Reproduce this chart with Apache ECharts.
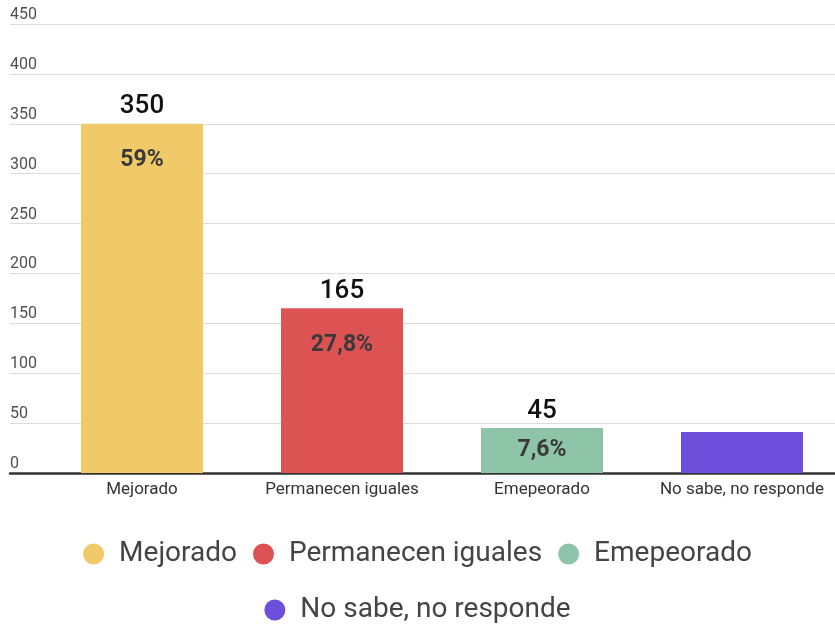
<!DOCTYPE html>
<html>
<head>
<meta charset="utf-8">
<style>html,body{margin:0;padding:0;background:#fff}#c{width:835px;height:626px}</style>
<script src="https://cdn.jsdelivr.net/npm/echarts@6/dist/echarts.min.js"></script>
</head>
<body>
<div id="c"></div>
<script>
const categories = ['Mejorado', 'Permanecen iguales', 'Emepeorado', 'No sabe, no responde'];
const values = [350, 165, 45, 41];
const percentLabels = ['59%', '27,8%', '7,6%', null];
const colors = ['#F0C968', '#DD5354', '#8EC4A7', '#6C4FDB'];
const yTicks = { min: 0, max: 450, interval: 50 };

const FONT = 'Roboto';
const chart = echarts.init(document.getElementById('c'), null, { renderer: 'canvas' });

const catSeries = categories.map((name, i) => ({
  type: 'bar',
  name: name,
  stack: 'v',
  xAxisIndex: 0,
  yAxisIndex: 0,
  barWidth: 122,
  data: categories.map((_, j) => (j === i ? values[i] : '-')),
  itemStyle: { color: colors[i] },
  label: {
    show: percentLabels[i] != null,
    position: 'top',
    distance: 4,
    fontFamily: FONT,
    fontSize: 26,
    fontWeight: 500,
    color: '#111'
  },
  emphasis: { disabled: true }
}));

const pctSeries = {
  type: 'bar',
  name: 'pct',
  stack: 'p',
  xAxisIndex: 0,
  yAxisIndex: 0,
  barWidth: 122,
  barGap: '-100%',
  silent: true,
  data: values.map((v, i) => ({ value: v, label: { position: v < 80 ? 'inside' : 'insideTop' } })),
  itemStyle: { color: 'rgba(0,0,0,0)' },
  label: {
    show: true,
    distance: 25,
    fontFamily: FONT,
    fontSize: 23,
    fontWeight: 'bold',
    color: '#3a3a3a',
    formatter: p => percentLabels[p.dataIndex] || ''
  },
  emphasis: { disabled: true }
};

const legendCommon = {
  left: 'center',
  icon: 'circle',
  itemWidth: 21,
  itemHeight: 21,
  itemGap: 16,
  selectedMode: false,
  textStyle: { fontFamily: FONT, fontSize: 28, color: '#444', padding: [0, 0, 0, 10] }
};

chart.setOption({
  animation: false,
  textStyle: { fontFamily: FONT },
  grid: [
    { left: 42, right: -7, top: 24, bottom: 153, containLabel: false, outerBoundsMode: 'none' },
    { left: 10, right: 0, top: 24, bottom: 153, containLabel: false, outerBoundsMode: 'none' }
  ],
  legend: [
    Object.assign({ data: categories.slice(0, 3), top: 535 }, legendCommon),
    Object.assign({ data: categories.slice(3), top: 591 }, legendCommon)
  ],
  xAxis: [
    {
      type: 'category', gridIndex: 0, data: categories,
      axisLine: { show: false }, axisTick: { show: false },
      axisLabel: { interval: 0, fontFamily: FONT, fontSize: 17, color: '#333', margin: 8 }
    },
    {
      type: 'value', gridIndex: 1, min: 0, max: 1,
      axisLine: { show: true, onZero: false, lineStyle: { color: '#333', width: 2.5 } },
      axisTick: { show: false }, axisLabel: { show: false }, splitLine: { show: false }
    }
  ],
  yAxis: [
    { type: 'value', gridIndex: 0, min: yTicks.min, max: yTicks.max, interval: yTicks.interval, show: false },
    {
      type: 'value', gridIndex: 1, min: yTicks.min, max: yTicks.max, interval: yTicks.interval,
      axisLine: { show: false }, axisTick: { show: false },
      splitLine: { lineStyle: { color: '#dcdcdc', width: 1.2 } },
      axisLabel: {
        inside: true, margin: 0, fontFamily: FONT, fontSize: 16, color: '#505050',
        verticalAlign: 'bottom', align: 'left', padding: [0, 0, 1, 0]
      }
    }
  ],
  series: catSeries.concat([pctSeries])
});
</script>
</body>
</html>
